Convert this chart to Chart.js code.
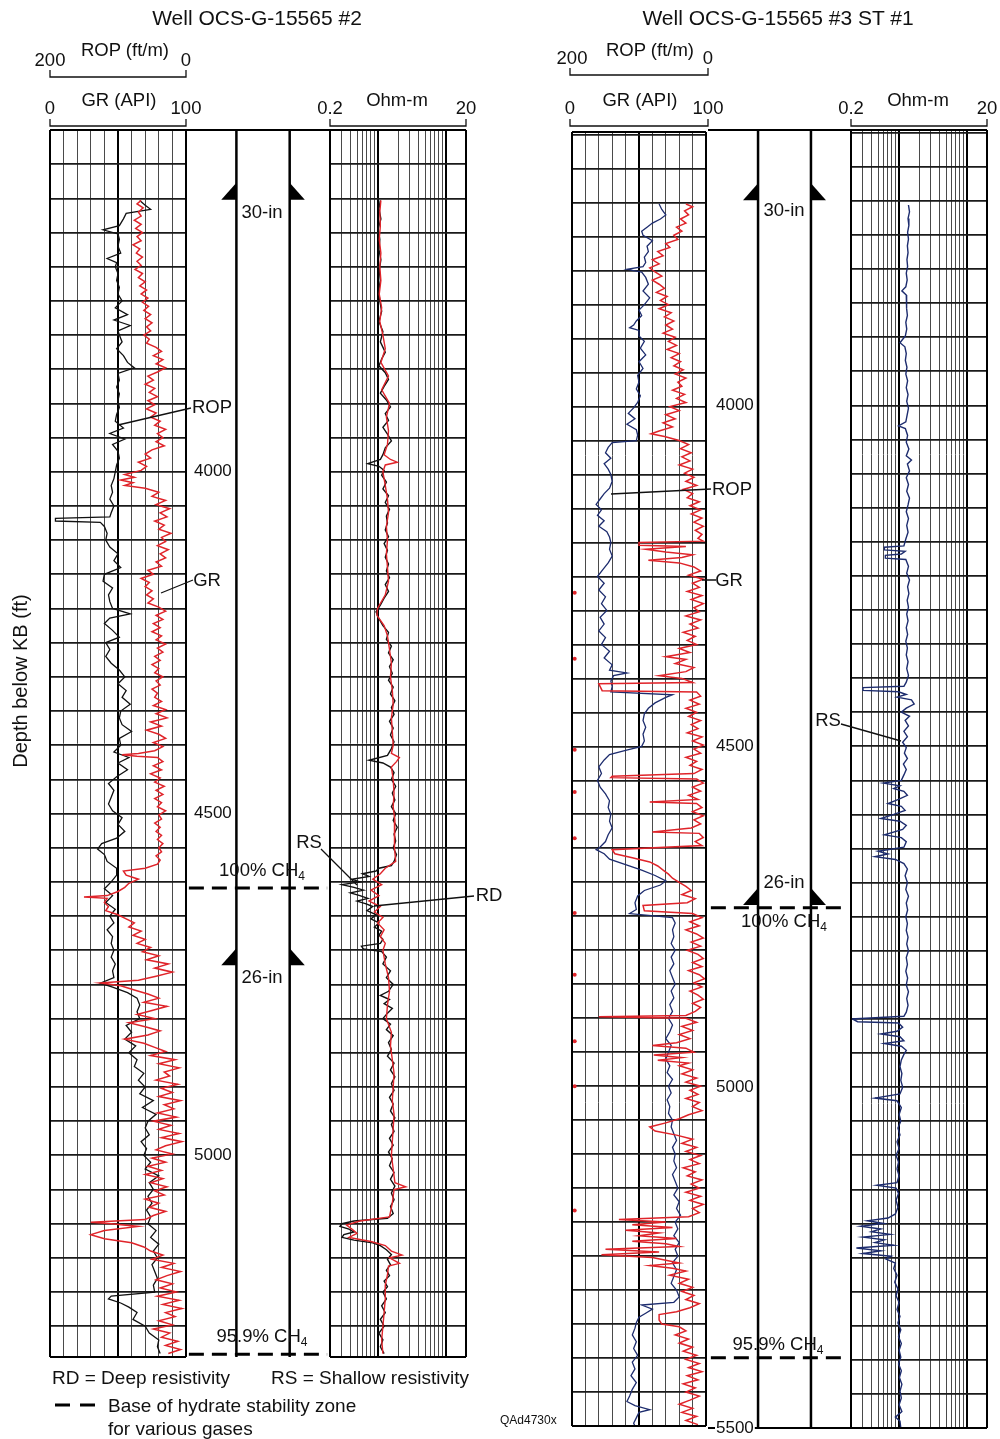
<!DOCTYPE html>
<html>
<head>
<meta charset="utf-8">
<script src="https://cdn.jsdelivr.net/npm/chart.js@4.4.1/dist/chart.umd.min.js"></script>
<style>
    body { margin: 0; background: #fff; }
    #page { position: relative; width: 1000px; height: 1439px; overflow: hidden; font-family: "Liberation Sans", Arial, sans-serif; color: #111; }
    canvas { position: absolute; }
    .t { position: absolute; transform: translate(-50%, -50%); white-space: nowrap; font-size: 18.5px; line-height: 1; }
    .l { position: absolute; transform: translateY(-50%); white-space: nowrap; font-size: 19px; line-height: 1; }
    .title { font-size: 21px; }
    sub { font-size: 12px; vertical-align: -4px; }
    #overlay { position: absolute; left: 0; top: 0; }
</style>
</head>
<body>
<div id="page">
    <canvas id="w2-gr" width="140" height="1231" style="left:48px;top:128px"></canvas>
    <canvas id="w2-mid" width="148" height="1243" style="left:184px;top:128px"></canvas>
    <canvas id="w2-res" width="140" height="1231" style="left:328px;top:128px"></canvas>
    <canvas id="w3-gr" width="142" height="1302" style="left:568px;top:128px"></canvas>
    <canvas id="w3-mid" width="147" height="1314" style="left:706px;top:128px"></canvas>
    <canvas id="w3-res" width="140" height="1302" style="left:849px;top:128px"></canvas>

    <svg id="overlay" width="1000" height="1439" fill="none" stroke="#111" stroke-width="1.3">
        <path d="M50,70 V77 H186 V70 M50,119 V126 H186 V119 M330,119 V126 H466 V119"/>
        <path d="M570,68 V75 H708 V68 M570,119 V126 H708 V119 M851,119 V126 H987 V119"/>
        <path d="M118,425 L191,408 M161,593 L193,580 M321,849 L357,885 M474,896 L374,906"/>
        <path d="M611,494 L711,489 M702,580 L716,580 M841,724 L901,741"/>
        <path d="M55,1405 H95" stroke-width="3" stroke-dasharray="15,10" stroke="#000"/>
    </svg>

    <div class="t title" style="left:257px;top:17px">Well OCS-G-15565 #2</div>
    <div class="t" style="left:125px;top:50px">ROP (ft/m)</div>
    <div class="t" style="left:50px;top:60px">200</div>
    <div class="t" style="left:186px;top:60px">0</div>
    <div class="t" style="left:119px;top:100px">GR (API)</div>
    <div class="t" style="left:50px;top:108px">0</div>
    <div class="t" style="left:186px;top:108px">100</div>
    <div class="t" style="left:330px;top:108px">0.2</div>
    <div class="t" style="left:397px;top:100px">Ohm-m</div>
    <div class="t" style="left:466px;top:108px">20</div>

    <div class="t title" style="left:778px;top:17px">Well OCS-G-15565 #3 ST #1</div>
    <div class="t" style="left:650px;top:50px">ROP (ft/m)</div>
    <div class="t" style="left:572px;top:58px">200</div>
    <div class="t" style="left:708px;top:58px">0</div>
    <div class="t" style="left:640px;top:100px">GR (API)</div>
    <div class="t" style="left:570px;top:108px">0</div>
    <div class="t" style="left:708px;top:108px">100</div>
    <div class="t" style="left:851px;top:108px">0.2</div>
    <div class="t" style="left:918px;top:100px">Ohm-m</div>
    <div class="t" style="left:987px;top:108px">20</div>

    <div class="t" style="left:20px;top:681px;transform:translate(-50%,-50%) rotate(-90deg);font-size:20px">Depth below KB (ft)</div>

    <div class="t" style="left:212px;top:407px">ROP</div>
    <div class="t" style="left:207px;top:580px">GR</div>
    <div class="t" style="left:309px;top:842px">RS</div>
    <div class="t" style="left:489px;top:895px">RD</div>
    <div class="t" style="left:732px;top:489px">ROP</div>
    <div class="t" style="left:729px;top:580px">GR</div>
    <div class="t" style="left:828px;top:720px">RS</div>

    <div class="t" style="left:262px;top:212px">30-in</div>
    <div class="t" style="left:262px;top:977px">26-in</div>
    <div class="t" style="left:262px;top:871px">100% CH<sub>4</sub></div>
    <div class="t" style="left:262px;top:1337px">95.9% CH<sub>4</sub></div>
    <div class="t" style="left:784px;top:210px">30-in</div>
    <div class="t" style="left:784px;top:882px">26-in</div>
    <div class="t" style="left:784px;top:922px">100% CH<sub>4</sub></div>
    <div class="t" style="left:778px;top:1345px">95.9% CH<sub>4</sub></div>

    <div class="l" style="left:52px;top:1377px">RD = Deep resistivity</div>
    <div class="l" style="left:271px;top:1377px">RS = Shallow resistivity</div>
    <div class="l" style="left:108px;top:1405px">Base of hydrate stability zone</div>
    <div class="l" style="left:108px;top:1428px">for various gases</div>
    <div class="l" style="left:500px;top:1420px;font-size:12px">QAd4730x</div>
</div>

<script>
// depth ranges of each well (ft below KB)
const w2_range = [3500, 5295];
const w3_range = [3596, 5500];
const w2_depth_labels = [4000, 4500, 5000];
const w3_depth_labels = [4000, 4500, 5000, 5500];

const gr_ticks = [0, 10, 20, 30, 40, 50, 60, 70, 80, 90, 100];
const ohm_ticks = [0.2, 0.3, 0.4, 0.5, 0.6, 0.7, 0.8, 0.9, 1, 2, 3, 4, 5, 6, 7, 8, 9, 10, 20];

// casing columns (middle track, 0-100 across) and shoe / hydrate depths
const casing_x = [35, 72];
const w2_shoes = [3602, 4722];
const w3_shoes = [3699, 4733];
const w2_hydrate_base = [4609, 5291];
const w3_hydrate_base = [4737, 5397];

// [depth ft, GR API]
const w2_gr = [[3603,66],[3610,70],[3616,74],[3622,56],[3630,54],[3640,51],[3646,39],[3652,50],[3660,51],[3670,50],[3680,52],[3688,42],[3694,49],[3700,48],[3710,50],[3720,49],[3730,51],[3740,50],[3750,53],[3760,48],[3770,57],[3778,47],[3786,59],[3794,50],[3800,51],[3810,53],[3820,49],[3830,54],[3840,57],[3848,62],[3856,50],[3866,51],[3876,49],[3886,51],[3896,50],[3906,51],[3916,49],[3926,48],[3936,54],[3944,44],[3952,55],[3960,46],[3970,50],[3980,51],[3990,49],[4000,48],[4010,47],[4020,45],[4030,46],[4040,44],[4050,47],[4060,45],[4066,44],[4068,4],[4072,4],[4074,37],[4080,40],[4090,42],[4100,41],[4110,44],[4120,50],[4130,47],[4140,52],[4150,40],[4160,39],[4170,46],[4180,43],[4190,44],[4200,46],[4208,59],[4214,44],[4222,40],[4232,46],[4242,51],[4250,41],[4260,44],[4270,41],[4280,45],[4290,51],[4300,55],[4310,50],[4320,56],[4330,53],[4340,59],[4350,52],[4360,51],[4370,53],[4380,60],[4390,51],[4400,52],[4410,47],[4418,58],[4426,50],[4436,57],[4446,49],[4456,43],[4466,47],[4476,45],[4486,43],[4496,46],[4506,53],[4516,50],[4526,55],[4536,49],[4544,38],[4552,35],[4560,40],[4570,42],[4580,49],[4590,49],[4600,45],[4610,40],[4620,46],[4630,41],[4640,48],[4650,44],[4660,47],[4670,42],[4680,46],[4690,45],[4700,47],[4710,45],[4720,48],[4730,46],[4740,47],[4748,37],[4754,46],[4762,57],[4770,64],[4780,66],[4790,64],[4800,66],[4810,56],[4820,60],[4830,55],[4840,63],[4850,58],[4860,64],[4870,62],[4880,69],[4890,65],[4900,70],[4910,66],[4920,76],[4930,68],[4940,78],[4950,72],[4960,70],[4970,73],[4980,67],[4990,71],[5000,69],[5010,74],[5020,70],[5030,80],[5040,73],[5050,76],[5060,72],[5070,75],[5080,71],[5090,74],[5100,72],[5110,78],[5120,74],[5130,80],[5140,76],[5150,79],[5160,75],[5170,77],[5180,79],[5190,76],[5200,77],[5206,45],[5210,43],[5216,52],[5222,58],[5230,64],[5240,61],[5250,70],[5260,73],[5270,80],[5280,79],[5290,81]];

// [depth ft, ROP ft/m]
const w2_rop = [[3603,66],[3608,72],[3614,63],[3620,70],[3626,66],[3632,76],[3638,66],[3644,74],[3650,64],[3656,72],[3662,66],[3668,78],[3674,68],[3680,73],[3686,64],[3692,72],[3698,66],[3704,75],[3710,64],[3716,70],[3722,60],[3728,68],[3734,58],[3740,66],[3746,56],[3752,64],[3758,55],[3764,62],[3770,52],[3776,60],[3782,50],[3788,58],[3794,52],[3800,62],[3806,54],[3812,58],[3818,44],[3824,36],[3830,48],[3836,34],[3842,44],[3848,30],[3854,42],[3860,56],[3866,48],[3872,60],[3878,46],[3884,54],[3890,42],[3896,56],[3902,46],[3908,58],[3914,44],[3920,52],[3926,38],[3932,46],[3938,30],[3944,42],[3950,34],[3956,44],[3962,32],[3968,50],[3974,60],[3980,52],[3986,70],[3992,58],[3998,66],[4004,90],[4008,76],[4012,96],[4016,78],[4020,90],[4024,60],[4030,40],[4036,50],[4042,30],[4048,44],[4054,24],[4060,38],[4066,28],[4072,46],[4078,32],[4084,40],[4090,22],[4096,36],[4102,30],[4108,42],[4114,26],[4120,38],[4126,30],[4132,44],[4138,36],[4144,56],[4150,48],[4156,66],[4162,54],[4168,60],[4174,50],[4180,58],[4186,48],[4192,56],[4198,40],[4204,30],[4210,44],[4216,34],[4222,48],[4228,38],[4234,50],[4240,36],[4246,44],[4252,30],[4258,42],[4264,34],[4270,46],[4276,38],[4282,50],[4288,40],[4294,46],[4300,34],[4306,44],[4312,38],[4318,50],[4324,42],[4330,46],[4336,36],[4342,48],[4348,30],[4354,44],[4360,28],[4366,52],[4372,36],[4378,58],[4384,40],[4390,30],[4396,48],[4402,34],[4408,46],[4412,70],[4414,94],[4416,72],[4418,42],[4424,34],[4430,48],[4436,36],[4442,52],[4448,38],[4454,46],[4460,32],[4466,44],[4472,34],[4478,46],[4484,36],[4490,42],[4496,30],[4502,40],[4508,36],[4514,46],[4520,38],[4526,44],[4532,36],[4538,42],[4544,34],[4550,40],[4556,36],[4562,44],[4568,38],[4574,42],[4580,60],[4584,92],[4590,88],[4596,70],[4602,84],[4608,90],[4614,100],[4620,116],[4622,150],[4624,116],[4630,120],[4636,114],[4642,118],[4648,100],[4654,88],[4660,76],[4666,84],[4672,66],[4678,78],[4684,60],[4690,72],[4696,52],[4702,64],[4708,40],[4714,58],[4720,26],[4726,46],[4732,20],[4738,44],[4744,70],[4748,126],[4752,96],[4758,76],[4764,56],[4770,40],[4776,62],[4782,28],[4788,50],[4794,72],[4800,46],[4806,84],[4812,60],[4818,38],[4824,56],[4830,90],[4836,62],[4842,46],[4848,30],[4854,52],[4860,16],[4866,40],[4872,10],[4878,32],[4884,24],[4890,44],[4896,12],[4902,36],[4908,20],[4914,40],[4920,8],[4926,32],[4932,18],[4938,42],[4944,14],[4950,48],[4956,22],[4962,40],[4968,10],[4974,36],[4980,6],[4986,30],[4992,44],[4998,20],[5004,50],[5010,30],[5016,56],[5022,36],[5028,60],[5034,34],[5040,52],[5046,28],[5052,46],[5058,32],[5064,60],[5070,40],[5076,54],[5082,30],[5088,48],[5094,60],[5098,140],[5100,110],[5104,70],[5110,120],[5116,140],[5122,120],[5128,80],[5134,62],[5140,52],[5146,34],[5152,50],[5158,18],[5164,36],[5170,8],[5176,28],[5182,44],[5188,20],[5194,38],[5200,14],[5206,42],[5212,10],[5218,34],[5224,6],[5230,30],[5236,16],[5242,40],[5248,20],[5254,48],[5260,24],[5266,36],[5272,12],[5278,30],[5284,8],[5290,26]];

// [depth ft, ohm-m] shallow (RS) and deep (RD) resistivity
const w2_rs = [[3603,1.10],[3615,1.05],[3630,1.12],[3645,1.02],[3660,1.08],[3675,1.05],[3690,1.12],[3705,1.06],[3720,1.10],[3735,1.04],[3750,1.08],[3765,1.15],[3780,1.05],[3795,1.20],[3810,1.10],[3825,1.30],[3835,1.15],[3845,1.05],[3855,1.30],[3865,1.45],[3875,1.25],[3885,1.10],[3895,1.35],[3905,1.55],[3915,1.30],[3925,1.45],[3935,1.20],[3945,1.40],[3955,1.60],[3965,1.30],[3975,1.20],[3982,1.10],[3988,0.72],[3992,1.05],[3998,1.25],[4005,1.15],[4015,1.35],[4025,1.20],[4035,1.45],[4045,1.30],[4055,1.50],[4065,1.35],[4075,1.40],[4085,1.30],[4095,1.45],[4105,1.25],[4115,1.40],[4125,1.30],[4135,1.45],[4145,1.35],[4155,1.50],[4165,1.30],[4175,1.45],[4185,1.25],[4195,1.10],[4205,0.95],[4215,1.05],[4225,1.20],[4235,1.45],[4245,1.35],[4255,1.60],[4265,1.45],[4275,1.70],[4285,1.50],[4295,1.65],[4305,1.45],[4315,1.70],[4325,1.55],[4335,1.80],[4345,1.60],[4355,1.75],[4365,1.50],[4375,1.70],[4385,1.55],[4395,1.75],[4405,1.60],[4415,1.40],[4422,0.75],[4426,1.20],[4432,1.55],[4440,1.75],[4450,1.60],[4460,1.85],[4470,1.65],[4480,1.80],[4490,1.60],[4500,1.85],[4510,1.70],[4520,1.95],[4530,1.75],[4540,1.85],[4550,1.70],[4560,1.90],[4570,1.75],[4576,1.60],[4580,1.05],[4584,0.95],[4588,0.60],[4592,0.75],[4596,0.42],[4600,0.55],[4604,0.30],[4608,0.45],[4612,0.62],[4616,0.40],[4620,0.55],[4624,0.72],[4628,0.50],[4632,0.68],[4636,0.85],[4642,0.70],[4648,0.95],[4654,0.80],[4660,1.05],[4666,0.90],[4672,1.15],[4678,1.05],[4684,1.20],[4690,1.10],[4694,0.58],[4698,0.62],[4702,1.15],[4710,1.35],[4720,1.20],[4730,1.55],[4740,1.35],[4750,1.70],[4760,1.45],[4766,1.10],[4772,1.50],[4778,1.25],[4785,1.65],[4792,1.40],[4800,1.20],[4808,1.55],[4816,1.35],[4825,1.70],[4835,1.45],[4845,1.60],[4855,1.40],[4865,1.75],[4875,1.55],[4885,1.80],[4895,1.60],[4905,1.75],[4915,1.50],[4925,1.70],[4935,1.55],[4945,1.80],[4955,1.60],[4965,1.75],[4975,1.50],[4985,1.70],[4995,1.45],[5005,1.65],[5015,1.50],[5025,1.75],[5035,1.55],[5045,1.80],[5055,1.60],[5065,1.75],[5075,1.55],[5085,1.70],[5092,1.40],[5096,0.45],[5100,0.30],[5104,0.28],[5108,0.38],[5112,0.45],[5116,0.32],[5120,0.30],[5124,0.45],[5128,0.85],[5132,1.10],[5138,1.35],[5145,1.60],[5152,1.40],[5160,1.55],[5168,1.35],[5176,1.50],[5184,1.25],[5192,1.40],[5200,1.20],[5210,1.35],[5220,1.15],[5230,1.30],[5240,1.10],[5250,1.25],[5260,1.05],[5270,1.20],[5280,1.10],[5290,1.25]];
const w2_rd = [[3603,1.12],[3620,1.08],[3640,1.10],[3660,1.06],[3680,1.12],[3700,1.08],[3720,1.12],[3740,1.06],[3760,1.15],[3780,1.08],[3800,1.20],[3820,1.30],[3840,1.12],[3860,1.45],[3880,1.15],[3900,1.50],[3920,1.35],[3940,1.45],[3960,1.40],[3975,1.25],[3982,1.55],[3986,1.95],[3990,1.30],[4000,1.20],[4020,1.30],[4040,1.40],[4060,1.45],[4080,1.35],[4100,1.40],[4120,1.35],[4140,1.40],[4160,1.45],[4180,1.30],[4200,1.00],[4210,0.98],[4225,1.25],[4240,1.40],[4260,1.50],[4280,1.60],[4300,1.55],[4320,1.65],[4340,1.70],[4360,1.60],[4380,1.65],[4400,1.70],[4412,1.60],[4418,2.10],[4424,1.90],[4432,1.60],[4450,1.70],[4470,1.75],[4490,1.70],[4510,1.80],[4530,1.80],[4550,1.75],[4570,1.85],[4580,1.30],[4588,1.10],[4596,0.85],[4604,1.15],[4612,0.80],[4620,1.05],[4628,0.75],[4636,1.10],[4644,0.90],[4652,1.20],[4660,1.00],[4670,1.25],[4680,1.10],[4690,1.30],[4700,1.20],[4720,1.30],[4740,1.45],[4760,1.50],[4780,1.40],[4800,1.35],[4820,1.60],[4840,1.55],[4860,1.65],[4880,1.75],[4900,1.70],[4920,1.65],[4940,1.75],[4960,1.70],[4980,1.65],[5000,1.60],[5020,1.70],[5040,1.80],[5046,2.60],[5050,1.75],[5070,1.65],[5090,1.50],[5096,0.55],[5102,0.35],[5108,0.42],[5114,0.50],[5120,0.38],[5126,0.80],[5132,1.30],[5140,1.60],[5146,2.30],[5150,1.50],[5158,2.10],[5162,1.45],[5175,1.40],[5190,1.30],[5210,1.30],[5230,1.25],[5250,1.20],[5270,1.15],[5290,1.20]];

const w3_gr = [[3702,65],[3710,67],[3718,70],[3724,66],[3730,60],[3736,56],[3742,52],[3748,53],[3756,60],[3764,56],[3772,57],[3780,54],[3788,55],[3794,53],[3798,41],[3802,52],[3810,55],[3820,57],[3830,53],[3840,58],[3850,54],[3858,50],[3866,52],[3874,48],[3880,46],[3884,43],[3888,50],[3896,50],[3904,54],[3914,51],[3924,55],[3934,50],[3944,53],[3954,49],[3964,50],[3974,48],[3984,51],[3994,49],[4002,46],[4010,42],[4018,47],[4026,41],[4034,48],[4042,49],[4050,48],[4053,30],[4060,27],[4068,25],[4076,29],[4084,24],[4092,27],[4100,29],[4110,30],[4120,28],[4128,24],[4136,21],[4144,18],[4152,22],[4160,19],[4168,24],[4176,20],[4184,26],[4192,28],[4200,29],[4210,28],[4220,30],[4230,27],[4240,23],[4250,19],[4260,24],[4270,20],[4280,25],[4290,22],[4300,26],[4310,21],[4320,24],[4330,20],[4340,25],[4350,22],[4360,28],[4370,24],[4380,30],[4388,28],[4392,41],[4396,31],[4404,29],[4412,30],[4420,29],[4424,75],[4428,70],[4436,62],[4444,57],[4452,54],[4462,53],[4472,55],[4482,53],[4492,54],[4500,52],[4506,40],[4512,28],[4520,24],[4530,20],[4540,22],[4550,19],[4560,21],[4570,25],[4580,28],[4590,27],[4600,29],[4610,28],[4620,30],[4630,27],[4640,25],[4648,21],[4652,18],[4658,24],[4666,28],[4674,40],[4682,52],[4690,62],[4698,70],[4704,66],[4712,54],[4720,49],[4730,47],[4740,48],[4746,43],[4752,75],[4760,77],[4770,75],[4780,76],[4790,74],[4800,77],[4810,74],[4820,76],[4830,73],[4840,75],[4850,77],[4860,74],[4870,76],[4880,73],[4890,75],[4900,72],[4910,75],[4920,73],[4930,70],[4940,74],[4950,72],[4960,70],[4970,73],[4980,71],[4990,75],[5000,72],[5010,74],[5020,71],[5030,73],[5040,72],[5050,75],[5060,74],[5070,76],[5080,78],[5090,75],[5100,77],[5110,76],[5120,78],[5130,75],[5140,77],[5150,79],[5160,76],[5170,80],[5180,78],[5190,81],[5200,77],[5210,79],[5220,76],[5230,80],[5240,77],[5250,79],[5260,75],[5270,78],[5280,76],[5290,74],[5300,78],[5310,80],[5318,76],[5322,52],[5328,60],[5334,55],[5340,50],[5348,48],[5356,47],[5366,45],[5376,48],[5386,46],[5396,49],[5406,45],[5416,47],[5426,44],[5436,48],[5446,45],[5456,43],[5464,41],[5470,47],[5476,58],[5480,50],[5488,48],[5496,46],[5500,47]];

const w3_rop = [[3702,30],[3706,20],[3712,32],[3718,26],[3724,38],[3730,30],[3736,44],[3742,36],[3748,48],[3754,42],[3760,60],[3766,54],[3772,72],[3778,64],[3784,80],[3790,70],[3796,84],[3802,76],[3808,66],[3814,80],[3820,70],[3826,62],[3832,74],[3838,58],[3844,68],[3850,56],[3856,70],[3862,52],[3868,62],[3874,48],[3880,60],[3886,50],[3892,64],[3898,46],[3904,56],[3910,44],[3916,58],[3922,40],[3928,52],[3934,38],[3940,48],[3946,34],[3952,46],[3958,30],[3964,42],[3970,36],[3976,50],[3982,32],[3988,44],[3994,30],[4000,54],[4006,40],[4012,60],[4018,46],[4024,64],[4030,50],[4036,70],[4040,82],[4044,62],[4050,40],[4056,26],[4062,38],[4068,22],[4074,36],[4080,24],[4086,40],[4092,20],[4098,32],[4104,18],[4110,30],[4116,14],[4122,34],[4128,20],[4134,28],[4140,10],[4146,24],[4152,8],[4158,22],[4164,6],[4170,18],[4176,4],[4182,16],[4188,6],[4194,12],[4198,4],[4200,100],[4204,100],[4206,30],[4210,90],[4214,60],[4218,20],[4222,36],[4226,86],[4230,40],[4236,18],[4242,8],[4248,26],[4254,4],[4260,20],[4266,10],[4272,28],[4278,6],[4284,22],[4290,4],[4296,18],[4302,10],[4308,30],[4314,8],[4320,24],[4326,12],[4332,34],[4338,16],[4344,28],[4350,14],[4356,40],[4362,24],[4368,60],[4372,30],[4378,46],[4384,18],[4390,30],[4396,70],[4400,36],[4406,20],[4408,160],[4418,155],[4420,14],[4426,8],[4432,24],[4438,10],[4444,30],[4450,14],[4456,26],[4462,8],[4468,22],[4474,12],[4480,28],[4486,6],[4492,20],[4498,4],[4504,18],[4510,8],[4516,30],[4522,14],[4528,24],[4534,6],[4540,18],[4544,140],[4546,142],[4548,14],[4554,4],[4560,20],[4566,8],[4572,26],[4578,12],[4582,84],[4584,14],[4590,6],[4596,20],[4602,4],[4608,18],[4614,8],[4620,22],[4626,80],[4628,10],[4634,4],[4640,16],[4646,6],[4652,140],[4658,136],[4664,110],[4670,84],[4676,72],[4682,64],[4688,56],[4694,50],[4700,40],[4706,30],[4712,22],[4718,36],[4724,16],[4730,28],[4734,94],[4742,92],[4746,20],[4752,6],[4758,24],[4764,10],[4770,30],[4776,14],[4782,4],[4788,22],[4794,8],[4800,28],[4806,12],[4812,4],[4818,20],[4824,6],[4830,26],[4836,10],[4842,2],[4848,18],[4854,6],[4860,24],[4866,12],[4872,4],[4878,20],[4884,8],[4890,16],[4896,30],[4898,160],[4900,30],[4906,14],[4912,36],[4918,20],[4924,40],[4930,24],[4936,44],[4940,80],[4944,30],[4950,18],[4954,78],[4958,36],[4962,72],[4966,26],[4970,40],[4976,20],[4982,36],[4988,14],[4994,30],[5000,8],[5006,24],[5012,12],[5018,30],[5024,10],[5030,20],[5036,6],[5042,26],[5048,40],[5054,60],[5060,84],[5066,76],[5072,44],[5078,20],[5084,36],[5090,14],[5096,30],[5102,8],[5108,24],[5114,10],[5120,34],[5126,16],[5132,28],[5138,6],[5144,22],[5150,10],[5156,30],[5162,8],[5168,24],[5174,4],[5180,20],[5186,10],[5192,26],[5196,130],[5200,60],[5204,110],[5208,50],[5212,120],[5216,70],[5220,100],[5224,44],[5228,110],[5232,60],[5236,40],[5240,150],[5244,70],[5248,156],[5252,80],[5256,60],[5260,40],[5264,84],[5268,50],[5272,30],[5278,54],[5284,26],[5290,40],[5296,20],[5302,36],[5308,18],[5314,30],[5320,10],[5326,24],[5332,44],[5336,70],[5344,70],[5350,66],[5354,40],[5360,30],[5366,46],[5372,26],[5378,40],[5384,20],[5390,34],[5396,14],[5402,30],[5408,10],[5414,26],[5420,6],[5426,28],[5432,12],[5438,34],[5444,16],[5450,30],[5456,10],[5462,24],[5468,40],[5474,20],[5480,36],[5486,14],[5492,30],[5498,12]];

// off-scale ROP marks at the left edge of well 3 track
const w3_rop_offscale = [[4274,196],[4371,196],[4505,196],[4567,196],[4635,196],[4745,196],[4836,196],[4934,196],[5000,196],[5183,196]];

const w3_rs = [[3706,1.40],[3716,1.45],[3726,1.38],[3736,1.42],[3746,1.36],[3756,1.40],[3766,1.35],[3776,1.38],[3786,1.33],[3796,1.36],[3806,1.30],[3816,1.34],[3826,1.28],[3832,1.12],[3838,1.30],[3848,1.33],[3858,1.30],[3868,1.35],[3878,1.28],[3888,1.32],[3898,1.26],[3908,1.05],[3914,1.24],[3924,1.30],[3934,1.26],[3944,1.33],[3954,1.28],[3964,1.36],[3974,1.30],[3984,1.38],[3994,1.32],[4004,1.40],[4014,1.34],[4024,1.28],[4030,1.00],[4034,1.26],[4044,1.36],[4054,1.30],[4064,1.42],[4074,1.30],[4080,1.55],[4086,1.35],[4096,1.45],[4106,1.30],[4116,1.40],[4126,1.32],[4136,1.45],[4146,1.38],[4156,1.30],[4166,1.40],[4176,1.32],[4186,1.38],[4196,1.28],[4206,1.20],[4208,0.62],[4212,0.62],[4214,1.25],[4218,1.10],[4220,0.64],[4224,0.64],[4226,1.28],[4236,1.40],[4246,1.32],[4256,1.45],[4266,1.36],[4276,1.42],[4286,1.34],[4296,1.40],[4306,1.32],[4316,1.38],[4326,1.30],[4336,1.36],[4346,1.28],[4356,1.35],[4366,1.30],[4376,1.38],[4386,1.32],[4396,1.40],[4406,1.30],[4412,1.20],[4414,0.30],[4418,0.30],[4420,1.00],[4424,1.30],[4428,0.95],[4432,1.55],[4438,1.70],[4444,1.30],[4450,1.10],[4456,1.45],[4462,1.25],[4470,1.40],[4478,1.20],[4486,1.35],[4494,1.15],[4502,1.30],[4510,1.22],[4518,1.35],[4526,1.18],[4534,1.30],[4542,1.20],[4550,1.10],[4554,0.60],[4558,1.05],[4562,0.85],[4566,1.20],[4572,1.35],[4578,1.00],[4584,0.70],[4588,1.10],[4594,1.25],[4600,0.85],[4606,0.55],[4610,1.05],[4616,1.30],[4622,1.15],[4630,0.62],[4634,1.10],[4640,1.30],[4648,1.20],[4654,0.50],[4658,0.70],[4662,0.45],[4666,0.90],[4672,1.20],[4680,1.35],[4690,1.25],[4700,1.35],[4710,1.28],[4720,1.40],[4730,1.30],[4740,1.36],[4750,1.28],[4760,1.35],[4770,1.30],[4780,1.38],[4790,1.32],[4800,1.40],[4810,1.30],[4820,1.35],[4830,1.28],[4840,1.36],[4850,1.30],[4860,1.40],[4870,1.32],[4880,1.38],[4890,1.30],[4896,1.20],[4900,0.21],[4904,0.25],[4906,1.00],[4912,1.15],[4918,0.95],[4922,0.55],[4926,1.05],[4932,1.20],[4936,0.62],[4940,1.10],[4946,1.30],[4952,1.20],[4960,1.10],[4970,1.05],[4980,1.12],[4990,1.08],[5000,1.15],[5010,1.05],[5016,0.45],[5020,0.95],[5030,1.10],[5040,1.02],[5050,1.08],[5060,0.98],[5070,1.05],[5080,0.95],[5090,1.02],[5100,0.92],[5110,1.00],[5120,0.95],[5130,1.02],[5140,0.95],[5144,0.48],[5148,0.92],[5156,1.00],[5166,0.92],[5176,0.98],[5186,0.90],[5192,0.70],[5196,0.35],[5200,0.60],[5204,0.28],[5208,0.55],[5212,0.40],[5216,0.75],[5220,0.30],[5224,0.62],[5228,0.45],[5232,0.85],[5236,0.24],[5240,0.55],[5244,0.30],[5248,0.78],[5252,0.65],[5258,0.90],[5266,0.85],[5276,0.95],[5286,0.88],[5296,0.98],[5306,0.92],[5316,1.02],[5326,0.95],[5336,1.05],[5346,0.98],[5356,1.08],[5366,1.00],[5376,1.10],[5386,1.02],[5396,1.08],[5406,1.00],[5416,1.10],[5426,1.03],[5436,1.12],[5446,1.05],[5456,1.10],[5466,1.02],[5476,1.12],[5484,0.90],[5490,1.05],[5500,1.08]];

const RED = '#e0242a';
const NAVY = '#1d2c6e';
const BLACK = '#111111';
const FONT = '"Liberation Sans", Arial, sans-serif';

// black frame round the chart area, only on the sides asked for
const frame_plugin = {
    id: 'frame',
    afterDatasetsDraw(chart, args, opts) {
        const a = chart.chartArea;
        const ctx = chart.ctx;
        ctx.save();
        ctx.strokeStyle = '#000';
        ctx.lineWidth = opts.width || 2;
        ctx.beginPath();
        (opts.sides || []).forEach((side) => {
            if (side === 'top') { ctx.moveTo(a.left, a.top); ctx.lineTo(a.right, a.top); }
            if (side === 'bottom') { ctx.moveTo(a.left, a.bottom); ctx.lineTo(a.right, a.bottom); }
            if (side === 'left') { ctx.moveTo(a.left, a.top); ctx.lineTo(a.left, a.bottom); }
            if (side === 'right') { ctx.moveTo(a.right, a.top); ctx.lineTo(a.right, a.bottom); }
        });
        ctx.stroke();
        ctx.restore();
    }
};

// casing shoe triangles on both casing lines
const shoe_plugin = {
    id: 'shoes',
    afterDatasetsDraw(chart, args, opts) {
        const xs = chart.scales.x;
        const ys = chart.scales.y;
        const ctx = chart.ctx;
        ctx.save();
        ctx.fillStyle = '#000';
        (opts.depths || []).forEach((d) => {
            const yb = ys.getPixelForValue(d);
            const yt = ys.getPixelForValue(d - 25);
            const xl = xs.getPixelForValue(casing_x[0]);
            const xr = xs.getPixelForValue(casing_x[1]);
            const w = xs.getPixelForValue(10.5) - xs.getPixelForValue(0);
            ctx.beginPath();
            ctx.moveTo(xl, yt); ctx.lineTo(xl, yb); ctx.lineTo(xl - w, yb);
            ctx.closePath(); ctx.fill();
            ctx.beginPath();
            ctx.moveTo(xr, yt); ctx.lineTo(xr, yb); ctx.lineTo(xr + w, yb);
            ctx.closePath(); ctx.fill();
        });
        ctx.restore();
    }
};

function to_points(pairs) {
    return pairs.map((p) => ({ x: p[1], y: p[0] }));
}

function grid_depths(range) {
    let out = [];
    for (let d = Math.ceil(range[0] / 50) * 50; d <= range[1]; d += 50) {
        out.push(d);
    }
    return out;
}

function line_set(pairs, color, x_axis, width) {
    return {
        data: to_points(pairs),
        xAxisID: x_axis,
        yAxisID: 'y',
        showLine: true,
        borderColor: color,
        borderWidth: width || 1.4,
        pointRadius: 0,
        fill: false,
        tension: 0
    };
}

function depth_axis(range) {
    return {
        type: 'linear',
        axis: 'y',
        reverse: true,
        min: range[0],
        max: range[1],
        border: { display: false },
        ticks: { display: false },
        grid: { drawTicks: false, color: '#1a1a1a', lineWidth: 1.7 },
        afterBuildTicks: (s) => { s.ticks = grid_depths(range).map((v) => ({ value: v })); },
        afterFit: (s) => { s.width = 0; s.paddingTop = 0; s.paddingBottom = 0; }
    };
}

function value_axis(type, min, max, ticks, major) {
    return {
        type: type,
        axis: 'x',
        min: min,
        max: max,
        position: 'bottom',
        border: { display: false },
        ticks: { display: false },
        grid: {
            drawTicks: false,
            color: (c) => major.includes(c.tick.value) ? '#000' : '#4a4a4a',
            lineWidth: (c) => major.includes(c.tick.value) ? 2 : 1
        },
        afterBuildTicks: (s) => { s.ticks = ticks.map((v) => ({ value: v })); },
        afterFit: (s) => { s.height = 0; s.paddingLeft = 0; s.paddingRight = 0; }
    };
}

function base_options(scales, frame, extra_plugins, padding) {
    return {
        responsive: false,
        animation: false,
        events: [],
        layout: { padding: padding || 2 },
        plugins: Object.assign({
            legend: { display: false },
            tooltip: { enabled: false },
            frame: frame
        }, extra_plugins || {}),
        scales: scales
    };
}

function make_gr_track(id, range, gr_pairs, rop_pairs, gr_color, extra_sets) {
    let datasets = [
        line_set(rop_pairs, RED, 'x2', 1.5),
        line_set(gr_pairs, gr_color, 'x', 1.3)
    ].concat(extra_sets || []);

    return new Chart(document.getElementById(id), {
        type: 'scatter',
        data: { datasets: datasets },
        options: base_options({
            x: value_axis('linear', 0, 100, gr_ticks, [50]),
            // ROP runs 200 -> 0 across the same track
            x2: { type: 'linear', axis: 'x', min: 0, max: 200, reverse: true, display: false },
            y: depth_axis(range)
        }, { sides: ['top', 'bottom', 'left', 'right'] }),
        plugins: [frame_plugin]
    });
}

function make_res_track(id, range, curves) {
    return new Chart(document.getElementById(id), {
        type: 'scatter',
        data: { datasets: curves.map((c) => line_set(c.pairs, c.color, 'x', 1.4)) },
        options: base_options({
            x: value_axis('logarithmic', 0.2, 20, ohm_ticks, [1, 10]),
            y: depth_axis(range)
        }, { sides: ['top', 'bottom', 'left', 'right'] }),
        plugins: [frame_plugin]
    });
}

function make_middle_track(id, range, depth_labels, shoes, hydrate, sides) {
    let datasets = casing_x.map((cx) => ({
        data: [{ x: cx, y: range[0] }, { x: cx, y: range[1] }],
        showLine: true, borderColor: '#000', borderWidth: 2.5, pointRadius: 0
    }));
    hydrate.forEach((d) => {
        datasets.push({
            data: [{ x: 2, y: d }, { x: 98, y: d }],
            showLine: true, borderColor: '#000', borderWidth: 3, borderDash: [15, 8], pointRadius: 0
        });
    });

    return new Chart(document.getElementById(id), {
        type: 'scatter',
        data: { datasets: datasets },
        options: base_options({
            x: { type: 'linear', axis: 'x', min: 0, max: 100, display: false },
            y: {
                type: 'linear',
                axis: 'y',
                reverse: true,
                min: range[0],
                max: range[1],
                border: { display: false },
                grid: { display: false },
                ticks: {
                    z: 1,
                    mirror: true,
                    padding: 8,
                    color: '#111',
                    font: { family: FONT, size: 17 },
                    showLabelBackdrop: true,
                    backdropColor: '#fff',
                    backdropPadding: 1,
                    autoSkip: false,
                    callback: (v) => depth_labels.includes(v) ? String(v) : ''
                },
                afterBuildTicks: (s) => { s.ticks = depth_labels.map((v) => ({ value: v })); },
                afterFit: (s) => { s.width = 0; s.paddingTop = 0; s.paddingBottom = 0; }
            }
        }, { sides: sides }, { shoes: { depths: shoes } }, { left: 2, right: 2, top: 2, bottom: 14 }),
        plugins: [frame_plugin, shoe_plugin]
    });
}

// well OCS-G-15565 #2
make_gr_track('w2-gr', w2_range, w2_gr, w2_rop, BLACK);
make_middle_track('w2-mid', w2_range, w2_depth_labels, w2_shoes, w2_hydrate_base, ['top']);
make_res_track('w2-res', w2_range, [
    { pairs: w2_rd, color: RED },
    { pairs: w2_rs, color: BLACK }
]);

// well OCS-G-15565 #3 ST #1
make_gr_track('w3-gr', w3_range, w3_gr, w3_rop, NAVY, [{
    data: to_points(w3_rop_offscale), xAxisID: 'x2', yAxisID: 'y',
    pointRadius: 2, pointBackgroundColor: RED, pointBorderWidth: 0, showLine: false
}]);
make_middle_track('w3-mid', w3_range, w3_depth_labels, w3_shoes, w3_hydrate_base, ['top', 'bottom']);
make_res_track('w3-res', w3_range, [
    { pairs: w3_rs, color: NAVY }
]);
</script>
</body>
</html>
